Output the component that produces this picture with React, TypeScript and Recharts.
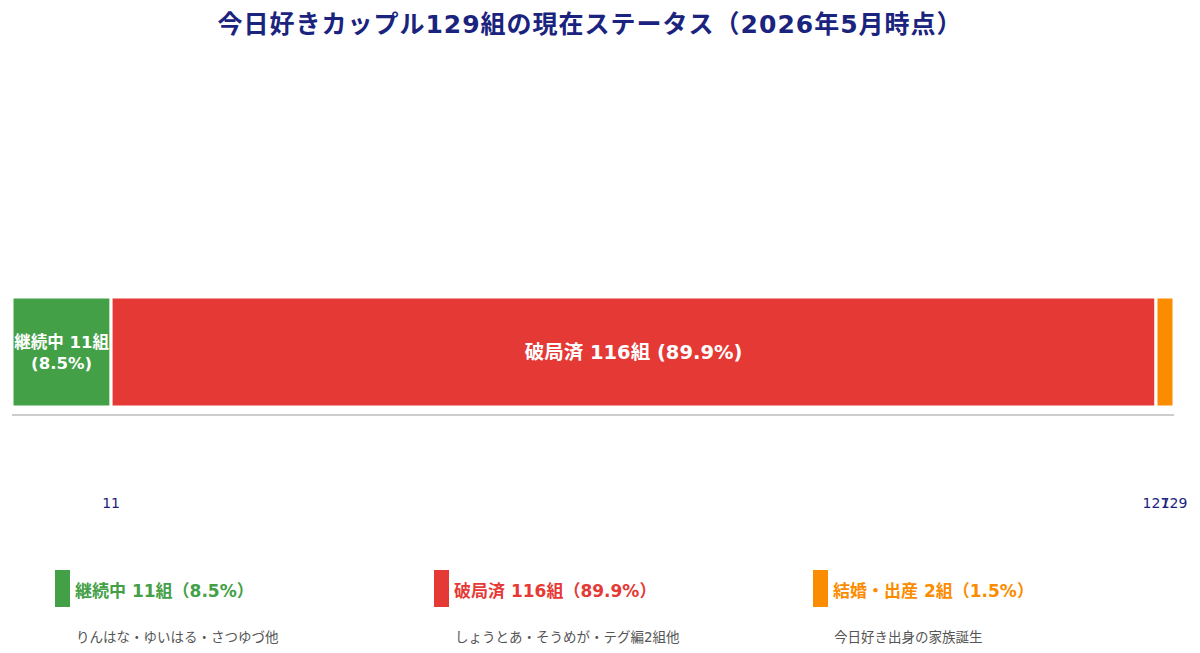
import React from "react";
import { BarChart, Bar, XAxis, YAxis, LabelList } from "recharts";

const categories = ["継続中", "破局済", "結婚・出産"];
const counts = [11, 116, 2];
const percents = [8.5, 89.9, 1.5];
const notes = [
  "りんはな・ゆいはる・さつゆづ他",
  "しょうとあ・そうめが・テグ編2組他",
  "今日好き出身の家族誕生",
];
const colors = ["#43a047", "#e53935", "#fb8c00"];
const xTicks = [11, 127, 129];

const FONT = '"DejaVu Sans", "Noto Sans CJK JP", sans-serif';
const NAVY = "#1a237e";

const row: Record<string, number | string> = { name: "status" };
counts.forEach((c, i) => {
  row[`s${i}`] = c;
});
const data = [row];

const AxisTick = (props: any) => {
  const { x, y, payload } = props;
  return (
    <text x={x} y={y} dy={85} textAnchor="middle" fill={NAVY} fontSize={14} fontFamily={FONT}>
      {payload.value}
    </text>
  );
};

const makeLabel = (i: number) => (props: any) => {
  const { x, y, width, height } = props;
  const cx = x + width / 2;
  const cy = y + height / 2;
  if (i === 0) {
    return (
      <text textAnchor="middle" fill="#fff" fontSize={16.5} fontWeight={700} fontFamily={FONT}>
        <tspan x={cx} y={cy - 4}>{`${categories[i]} ${counts[i]}組`}</tspan>
        <tspan x={cx} y={cy + 17}>{`(${percents[i]}%)`}</tspan>
      </text>
    );
  }
  if (i === 1) {
    return (
      <text x={cx} y={cy + 7} textAnchor="middle" fill="#fff" fontSize={19.5} fontWeight={700} fontFamily={FONT}>
        {`${categories[i]} ${counts[i]}組 (${percents[i]}%)`}
      </text>
    );
  }
  return null;
};

export default function App() {
  return (
    <div
      style={{
        position: "absolute",
        left: 0,
        top: 0,
        width: 1200,
        height: 653,
        background: "#fff",
        fontFamily: FONT,
        overflow: "hidden",
      }}
    >
      <div
        style={{
          position: "absolute",
          top: 4,
          left: 0,
          width: 1180,
          textAlign: "center",
          fontSize: 25,
          fontWeight: 700,
          letterSpacing: 1,
          color: NAVY,
        }}
      >
        今日好きカップル129組の現在ステータス（2026年5月時点）
      </div>

      <div style={{ position: "absolute", left: 0, top: 0 }}>
        <BarChart
          width={1200}
          height={520}
          data={data}
          layout="vertical"
          margin={{ top: 288, right: 26, bottom: 0, left: 12 }}
        >
          <XAxis
            type="number"
            domain={[0, 129]}
            ticks={xTicks}
            interval={0}
            height={105}
            tickLine={false}
            axisLine={{ stroke: "#bdbdbd", strokeWidth: 1.5 }}
            tick={<AxisTick />}
          />
          <YAxis type="category" dataKey="name" hide />
          {counts.map((_, i) => (
            <Bar
              key={i}
              dataKey={`s${i}`}
              stackId="a"
              fill={colors[i]}
              stroke="#fff"
              strokeWidth={3}
              barSize={110}
              isAnimationActive={false}
            >
              <LabelList dataKey={`s${i}`} content={makeLabel(i)} />
            </Bar>
          ))}
        </BarChart>
      </div>

      {categories.map((c, i) => (
        <div key={c} style={{ position: "absolute", left: 55 + i * 379, top: 570 }}>
          <div
            style={{
              position: "absolute",
              left: 0,
              top: 0,
              width: 15,
              height: 37,
              background: colors[i],
            }}
          />
          <div
            style={{
              position: "absolute",
              left: 20,
              top: 7,
              whiteSpace: "nowrap",
              fontSize: 17,
              fontWeight: 700,
              color: colors[i],
            }}
          >
            {`${c} ${counts[i]}組（${percents[i]}%）`}
          </div>
          <div
            style={{
              position: "absolute",
              left: 21,
              top: 56,
              whiteSpace: "nowrap",
              fontSize: 13.5,
              color: "#555",
            }}
          >
            {notes[i]}
          </div>
        </div>
      ))}
    </div>
  );
}
